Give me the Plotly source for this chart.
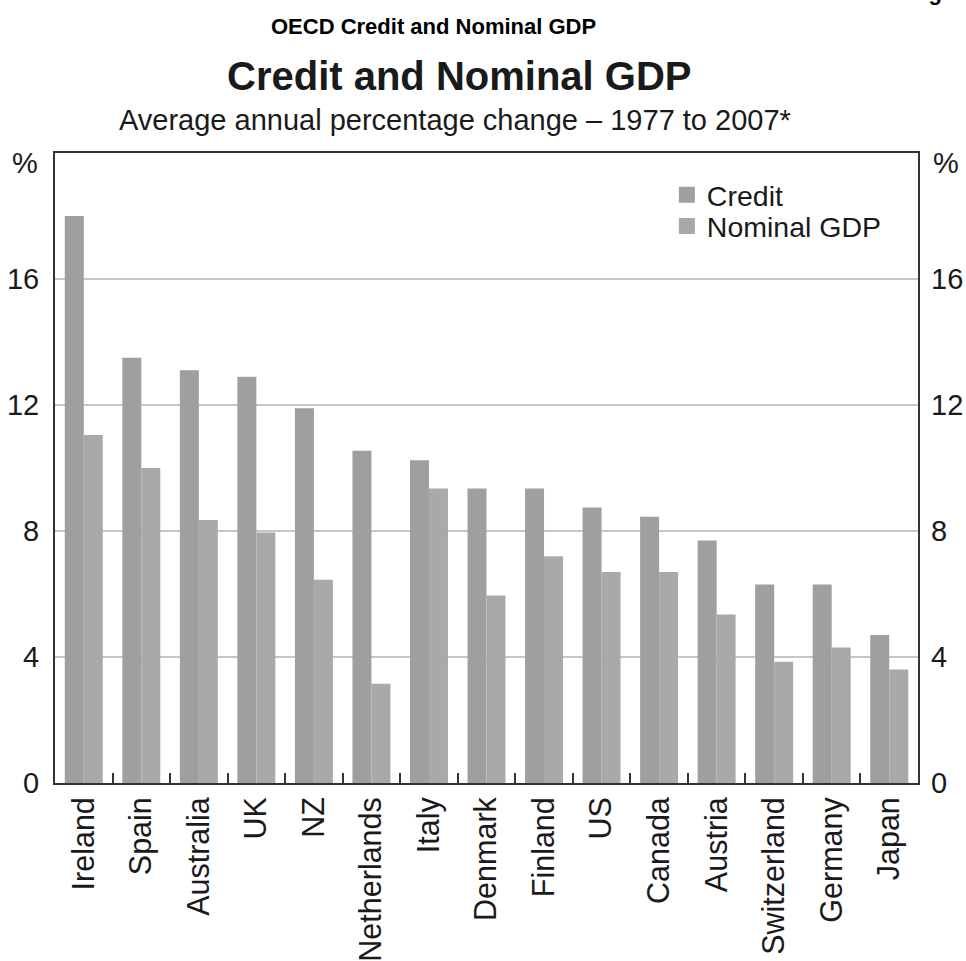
import plotly.graph_objects as go

countries = ["Ireland", "Spain", "Australia", "UK", "NZ", "Netherlands", "Italy",
             "Denmark", "Finland", "US", "Canada", "Austria", "Switzerland",
             "Germany", "Japan"]
credit = [18.0, 13.5, 13.1, 12.9, 11.9, 10.55, 10.25, 9.35, 9.35, 8.75, 8.45,
          7.7, 6.3, 6.3, 4.7]
nominal_gdp = [11.05, 10.0, 8.35, 7.95, 6.45, 3.15, 9.35, 5.95, 7.2, 6.7, 6.7,
               5.35, 3.85, 4.3, 3.6]
y_ticks = [0, 4, 8, 12, 16]

CREDIT_COLOR = "#9f9f9f"
GDP_COLOR = "#a9a9a9"
FONT = "Liberation Sans, Arial, sans-serif"
TXT = "#1a1a1a"

fig = go.Figure()
fig.add_trace(go.Bar(x=countries, y=credit, name="Credit",
                     marker=dict(color=CREDIT_COLOR, line=dict(width=0)),
                     showlegend=False, hoverinfo="skip"))
fig.add_trace(go.Bar(x=countries, y=nominal_gdp, name="Nominal GDP",
                     marker=dict(color=GDP_COLOR, line=dict(width=0)),
                     showlegend=False, hoverinfo="skip"))
# legend entries
fig.add_trace(go.Scatter(x=[None], y=[None], mode="markers", name="Credit",
                         marker=dict(symbol="square", size=20, color=CREDIT_COLOR),
                         legend="legend"))
fig.add_trace(go.Scatter(x=[None], y=[None], mode="markers", name="Nominal GDP",
                         marker=dict(symbol="square", size=20, color=GDP_COLOR),
                         legend="legend2"))
# anchor trace so the right-hand axis is drawn
fig.add_trace(go.Scatter(x=[None], y=[None], mode="markers", yaxis="y2",
                         showlegend=False, hoverinfo="skip"))

legend_common = dict(font=dict(family=FONT, size=28.5, color=TXT),
                     bgcolor="rgba(0,0,0,0)", itemsizing="trace",
                     xanchor="left", yanchor="middle")

fig.update_layout(
    template="none",
    width=966, height=961,
    margin=dict(l=55, r=48, t=153, b=178, autoexpand=False),
    plot_bgcolor="white", paper_bgcolor="white",
    barmode="group", bargap=0.34, bargroupgap=0,
    font=dict(family=FONT, size=29, color=TXT),
    hovermode=False,
    legend=dict(x=0.709, y=0.933, **legend_common),
    legend2=dict(x=0.709, y=0.8835, **legend_common),
    xaxis=dict(type="category", range=[-0.5, 14.5], showline=True, mirror=True,
               linecolor="#333333", linewidth=2, ticks="inside",
               tickson="boundaries", ticklen=10, tickwidth=2,
               tickcolor="#333333", tickangle=-90, showgrid=False,
               automargin=False, zeroline=False,
               tickfont=dict(size=30.5, color=TXT), ticklabelstandoff=0),
    yaxis=dict(range=[0, 20], tickvals=y_ticks, showgrid=True,
               gridcolor="#c6c6c6", gridwidth=2, showline=True, mirror=True,
               linecolor="#333333", linewidth=2, ticks="", zeroline=False,
               automargin=False,
               tickfont=dict(size=29, color=TXT), ticklabelstandoff=8),
    yaxis2=dict(overlaying="y", side="right", range=[0, 20], tickvals=y_ticks,
                showgrid=False, showline=False, ticks="", zeroline=False,
                automargin=False,
                tickfont=dict(size=29, color=TXT), ticklabelstandoff=12),
)

annotations = [
    dict(text="<b>OECD Credit and Nominal GDP</b>", x=0.439, y=1.201,
         font=dict(family=FONT, size=22, color="#000000")),
    dict(text="<b>Credit and Nominal GDP</b>", x=0.469, y=1.123,
         font=dict(family=FONT, size=40, color=TXT)),
    dict(text="Average annual percentage change \u2013 1977 to 2007*", x=0.463,
         y=1.053, font=dict(family=FONT, size=29, color=TXT)),
    dict(text="%", x=-0.035, y=0.9835, font=dict(family=FONT, size=29, color=TXT)),
    dict(text="%", x=1.033, y=0.9835, font=dict(family=FONT, size=29, color=TXT)),
]
for a in annotations:
    fig.add_annotation(xref="paper", yref="paper", showarrow=False,
                       xanchor="center", yanchor="middle", **a)
fig.add_annotation(xref="paper", yref="paper", showarrow=False, text="<b>Fig.</b>",
                   x=1.037, y=1.232, xanchor="right", yanchor="bottom",
                   font=dict(family=FONT, size=22, color="#000000"))

fig.write_html("out.html", config={"displayModeBar": False, "staticPlot": True},
               post_script="document.body.style.margin='0';"
                           "document.body.style.overflow='hidden';")
